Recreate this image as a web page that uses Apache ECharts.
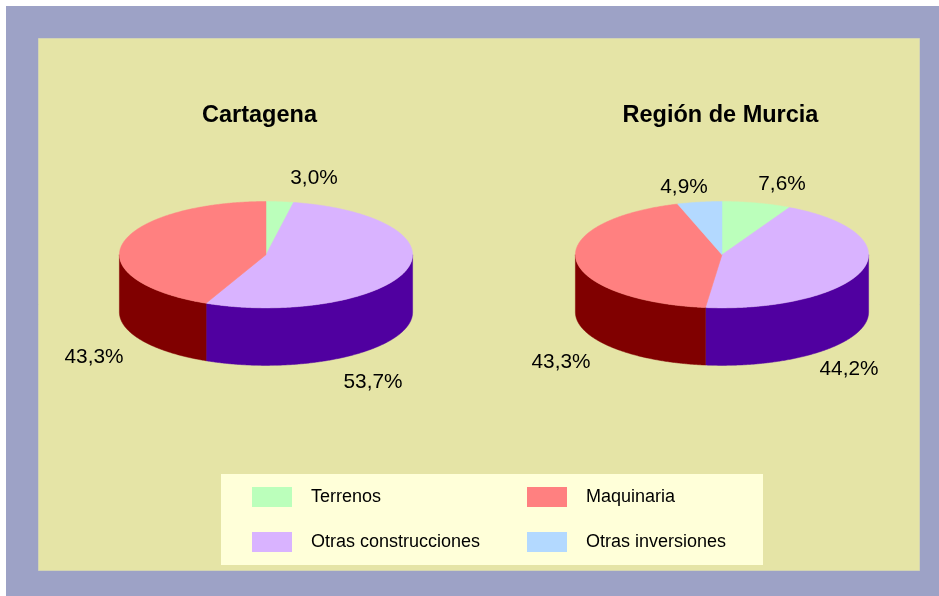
<!DOCTYPE html>
<html><head><meta charset="utf-8">
<style>html,body{margin:0;padding:0;background:#fff}#c{width:939px;height:596px}</style>
<script src="https://cdn.jsdelivr.net/npm/echarts@6/dist/echarts.min.js"></script>
</head><body><div id="c"></div>
<script>
const categories = ['Terrenos', 'Otras construcciones', 'Maquinaria', 'Otras inversiones'];
const pies = ['Cartagena', 'Región de Murcia'];
const cartagena = [3.0, 53.7, 43.3, 0];
const murcia = [7.6, 44.2, 43.3, 4.9];

const topColors = ['#BBFFBB', '#D9B3FF', '#FF8080', '#B3D9FF'];
const sideColors = ['#5DA05D', '#5000A0', '#800000', '#5A7FA0'];
const FONT = '"Liberation Sans", Arial, sans-serif';
const centers = [[266, 254.7], [722, 254.7]];
const RX = 146.6, RY = 53.2, DEPTH = 57.5;
// label centres per pie, per category
const labelSpots = [
  [[314, 178], [373, 382], [94, 357], null],
  [[782, 184], [849, 369], [561, 362], [684, 187]]
];

const valuesByPie = [cartagena, murcia];
const fmt = v => v.toFixed(1).replace('.', ',') + '%';

function startOf(vals, i) {
  let s = 0;
  for (let k = 0; k < i; k++) s += vals[k];
  return s;
}
function pt(c, deg, dy) {
  const a = deg * Math.PI / 180;
  return [c[0] + RX * Math.sin(a), c[1] - RY * Math.cos(a) + dy];
}
function arc(c, from, to, dy) {
  const out = [];
  const n = Math.max(2, Math.ceil((to - from) * 2));
  for (let i = 0; i <= n; i++) out.push(pt(c, from + (to - from) * i / n, dy));
  return out;
}
function renderSlice(catIdx) {
  return function (params, api) {
    const p = api.value(0), start = api.value(1), val = api.value(2);
    if (!val) return null;
    const c = centers[p];
    const a0 = start * 3.6, a1 = (start + val) * 3.6;
    const children = [];
    const s0 = Math.max(a0, 90), s1 = Math.min(a1, 270);
    if (s1 > s0) {
      const front = arc(c, s0, s1, 0);
      const back = arc(c, s0, s1, DEPTH).reverse();
      children.push({
        type: 'polygon', shape: { points: front.concat(back) },
        style: { fill: sideColors[catIdx], stroke: sideColors[catIdx], lineWidth: 0.5 }
      });
    }
    children.push({
      type: 'polygon', shape: { points: [c].concat(arc(c, a0, a1, 0)) },
      style: { fill: topColors[catIdx], stroke: topColors[catIdx], lineWidth: 0.5 }
    });
    const spot = labelSpots[p][catIdx];
    if (spot) children.push({
      type: 'text', z2: 10,
      style: { x: spot[0], y: spot[1], text: fmt(val), fill: '#000', font: '20.8px ' + FONT, align: 'center', verticalAlign: 'middle' }
    });
    return { type: 'group', children };
  };
}

const series = categories.map((name, i) => ({
  type: 'custom', name, coordinateSystem: 'none', silent: true, animation: false,
  itemStyle: { color: topColors[i] },
  renderItem: renderSlice(i),
  data: valuesByPie.map((vals, p) => [p, startOf(vals, i), vals[i]])
}));

const legendBase = {
  orient: 'vertical', top: 487, itemWidth: 40, itemHeight: 20, itemGap: 25, icon: 'rect', selectedMode: false,
  padding: 0, textStyle: { color: '#000', fontFamily: FONT, fontSize: 18, padding: [0, 0, 0, 14] }
};

const chart = echarts.init(document.getElementById('c'), null, { renderer: 'canvas' });
chart.setOption({
  animation: false,
  backgroundColor: '#fff',
  title: pies.map((text, i) => ({
    text, left: [259.5, 720.5][i], top: 104, textAlign: 'center', padding: 0,
    textStyle: { color: '#000', fontFamily: FONT, fontSize: 23.5, fontWeight: 'bold' }
  })),
  legend: [
    Object.assign({}, legendBase, { left: 252, data: [categories[0], categories[1]] }),
    Object.assign({}, legendBase, { left: 527, data: [categories[2], categories[3]] })
  ],
  graphic: [
    { type: 'rect', z: -10, silent: true, shape: { x: 6, y: 6, width: 933, height: 590 }, style: { fill: '#9DA2C6' } },
    { type: 'rect', z: -9, silent: true, shape: { x: 38.5, y: 38.5, width: 881, height: 532 }, style: { fill: '#E5E4A6', stroke: '#D3D4B4', lineWidth: 1 } },
    { type: 'rect', z: -8, silent: true, shape: { x: 221, y: 474, width: 542, height: 91 }, style: { fill: '#FFFFD9' } }
  ],
  series
});
</script></body></html>
